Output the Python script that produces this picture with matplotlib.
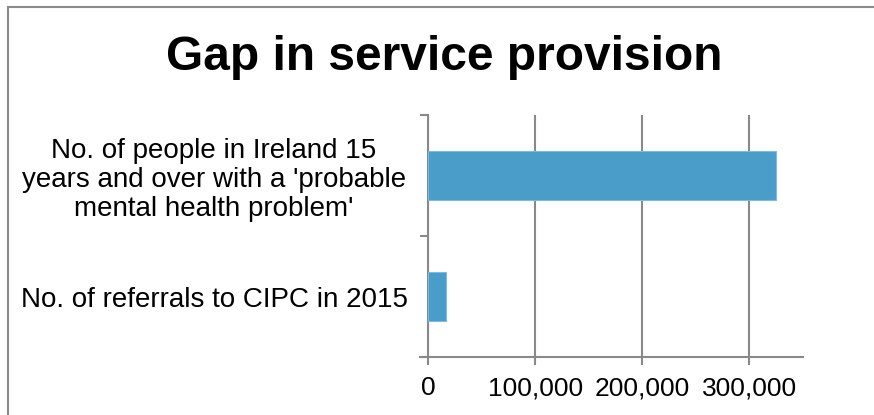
import matplotlib.pyplot as plt
from matplotlib.patches import Rectangle
from matplotlib.lines import Line2D
from matplotlib.ticker import FuncFormatter

categories = ["No. of referrals to CIPC in 2015",
              "No. of people in Ireland 15\nyears and over with a 'probable\nmental health problem'"]
values = [16800, 325000]
xticks = [0, 100000, 200000, 300000]

plt.rcParams['font.family'] = ['Liberation Sans', 'DejaVu Sans']

grey = '#898989'
bar_color = '#4A9CC9'

fig = plt.figure(figsize=(8.74, 4.15), dpi=100)
ax = fig.add_axes([428 / 874, 1 - 357 / 415, 375 / 874, 242 / 415])

ax.barh(range(len(categories)), values, height=0.4, color=bar_color,
        edgecolor='#7fb9dc', linewidth=0.8, zorder=3)

ax.set_xlim(0, 350000)
ax.set_ylim(-0.5, 1.5)
ax.set_xticks(xticks)
ax.xaxis.set_major_formatter(FuncFormatter(lambda v, p: f"{int(v):,}"))
ax.set_yticks(range(len(categories)))
ax.set_yticklabels(categories, ha='center', multialignment='center',
                   linespacing=1.15)
ax.set_yticks([-0.5, 0.5, 1.5], minor=True)

# labels centred about 215 px left of the axis
ax.tick_params(axis='y', which='major', length=0, pad=154, labelsize=20)
ax.tick_params(axis='y', which='minor', length=6, width=1.5, color=grey)
ax.tick_params(axis='x', length=6, width=1.5, color=grey, labelsize=19, pad=8)

ax.grid(axis='x', color=grey, linewidth=1.5, zorder=0)
for s in ['top', 'right', 'bottom']:
    ax.spines[s].set_visible(False)
ax.spines['left'].set_color(grey)
ax.spines['left'].set_linewidth(1.5)

# bottom axis line reaching a little past the left spine
ax.add_line(Line2D([-8 / 375, 1], [0, 0], transform=ax.transAxes, color=grey,
                   linewidth=1.5, clip_on=False, zorder=4))

fig.text(0.5086, 0.862, "Gap in service provision", ha='center', va='center',
         fontsize=34.5, fontweight='bold')

# outer chart frame, cut off on the right and bottom
fig.add_artist(Rectangle((8 / 874, -0.1), 2, 1.1 - 7 / 415,
                         transform=fig.transFigure, fill=False,
                         edgecolor=grey, linewidth=1.5))

fig.savefig('out.png', dpi=100)
